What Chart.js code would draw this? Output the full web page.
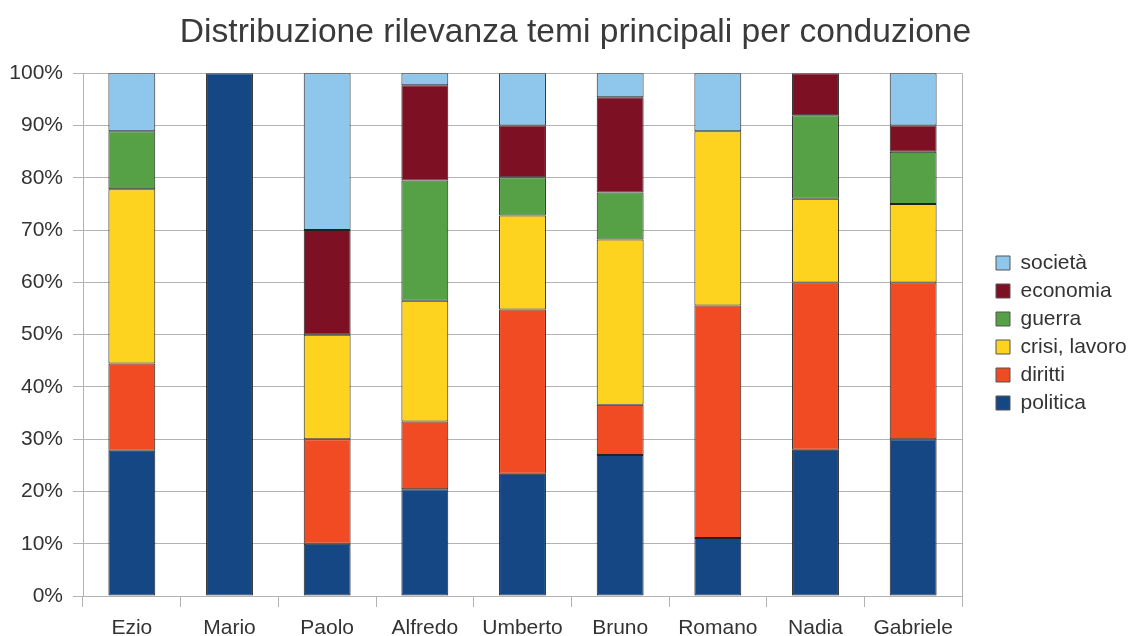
<!DOCTYPE html>
<html lang="it">
<head>
<meta charset="UTF-8">
<script src="https://cdn.jsdelivr.net/npm/chart.js"></script>
<title>Distribuzione rilevanza temi principali per conduzione</title>
<style>
  body { margin: 0; background: #fff; }
  #wrap { width: 1135px; height: 636px; }
</style>
</head>
<body>
<div id="wrap"><canvas id="myChart"></canvas></div>
<script>
const conduttori = ['Ezio', 'Mario', 'Paolo', 'Alfredo', 'Umberto', 'Bruno', 'Romano', 'Nadia', 'Gabriele'];

// percentuali (dal basso verso l'alto)
const politica = [27.8, 100, 10, 20.4, 23.4, 27.0, 11.1, 28, 30];
const diritti  = [16.7, 0, 20, 13.0, 31.4, 9.6, 44.5, 32, 30];
const crisi    = [33.3, 0, 20, 23.1, 18.0, 31.6, 33.3, 16, 15];
const guerra   = [11.1, 0, 0, 23.0, 7.3, 9.0, 0, 16, 10];
const economia = [0, 0, 20, 18.2, 9.9, 18.2, 0, 8, 5];
const societa  = [11.1, 0, 30, 2.3, 10.0, 4.6, 11.1, 0, 10];

const yTicks = [0, 10, 20, 30, 40, 50, 60, 70, 80, 90, 100];

const font = "'Liberation Sans', Arial, sans-serif";

function ds(label, data, color) {
    return {
        label: label,
        data: data,
        backgroundColor: color,
        borderColor: '#222222',
        borderWidth: 1,
        borderSkipped: false,
        barPercentage: 0.48,
        categoryPercentage: 1
    };
}

// bordo destro del riquadro + legenda staccata dal grafico
const layoutFix = {
    id: 'layoutFix',
    beforeLayout(chart) {
        const lg = chart.legend;
        if (lg && !lg._fixed) {
            const fit = lg.fit;
            lg.fit = function () { fit.call(this); this.width = 173; };
            lg._fixed = true;
        }
    },
    afterLayout(chart) {
        const lg = chart.legend;
        if (lg) { lg.left += 27; lg.right += 27; lg.top += 15; lg.bottom += 15; }
        const tb = chart.titleBlock;
        if (tb) { tb.left += 8; tb.right += 8; tb.top += 2; tb.bottom += 2; }
    },
    afterDraw(chart) {
        const a = chart.chartArea;
        const c = chart.ctx;
        c.save();
        c.strokeStyle = '#b3b3b3';
        c.lineWidth = 1;
        c.beginPath();
        c.moveTo(Math.round(a.right) + 0.5, a.top);
        c.lineTo(Math.round(a.right) + 0.5, a.bottom + 11);
        c.stroke();
        c.restore();
    }
};

const ctx = document.getElementById('myChart');
const chart = new Chart(ctx, {
    type: 'bar',
    data: {
        labels: conduttori,
        datasets: [
            ds('politica', politica, '#154785'),
            ds('diritti', diritti, '#f04b23'),
            ds('crisi, lavoro', crisi, '#fdd320'),
            ds('guerra', guerra, '#56a045'),
            ds('economia', economia, '#7e1023'),
            ds('società', societa, '#8fc6ec')
        ]
    },
    plugins: [layoutFix],
    options: {
        responsive: true,
        maintainAspectRatio: false,
        animation: false,
        layout: { padding: 0 },
        plugins: {
            title: {
                display: true,
                text: 'Distribuzione rilevanza temi principali per conduzione',
                color: '#3a3a3a',
                font: { family: font, size: 33.6, weight: 'normal' },
                padding: { top: 11, bottom: 22 }
            },
            legend: {
                position: 'right',
                reverse: true,
                labels: {
                    color: '#333333',
                    font: { family: font, size: 21 },
                    boxWidth: 14,
                    boxHeight: 14,
                    padding: 7,
                    generateLabels(chart) {
                        const items = Chart.defaults.plugins.legend.labels.generateLabels(chart);
                        items.forEach(i => { i.strokeStyle = '#555555'; i.lineWidth = 1; });
                        return items;
                    }
                }
            },
            tooltip: { enabled: false }
        },
        scales: {
            x: {
                stacked: true,
                afterFit(axis) { axis.height = 40; },
                grid: {
                    offset: true,
                    drawOnChartArea: false,
                    drawTicks: true,
                    tickLength: 11,
                    color: '#b3b3b3'
                },
                border: { color: '#b3b3b3' },
                ticks: {
                    color: '#333333',
                    font: { family: font, size: 21 },
                    padding: 9
                }
            },
            y: {
                stacked: true,
                min: 0,
                max: 100,
                afterFit(axis) { axis.width = 83; },
                afterBuildTicks(axis) {
                    axis.ticks = yTicks.map(v => ({ value: v }));
                },
                grid: {
                    color: '#b3b3b3',
                    tickLength: 10
                },
                border: { color: '#b3b3b3' },
                ticks: {
                    color: '#333333',
                    font: { family: font, size: 21 },
                    padding: 10,
                    callback: v => v + '%'
                }
            }
        }
    }
});
</script>
</body>
</html>
